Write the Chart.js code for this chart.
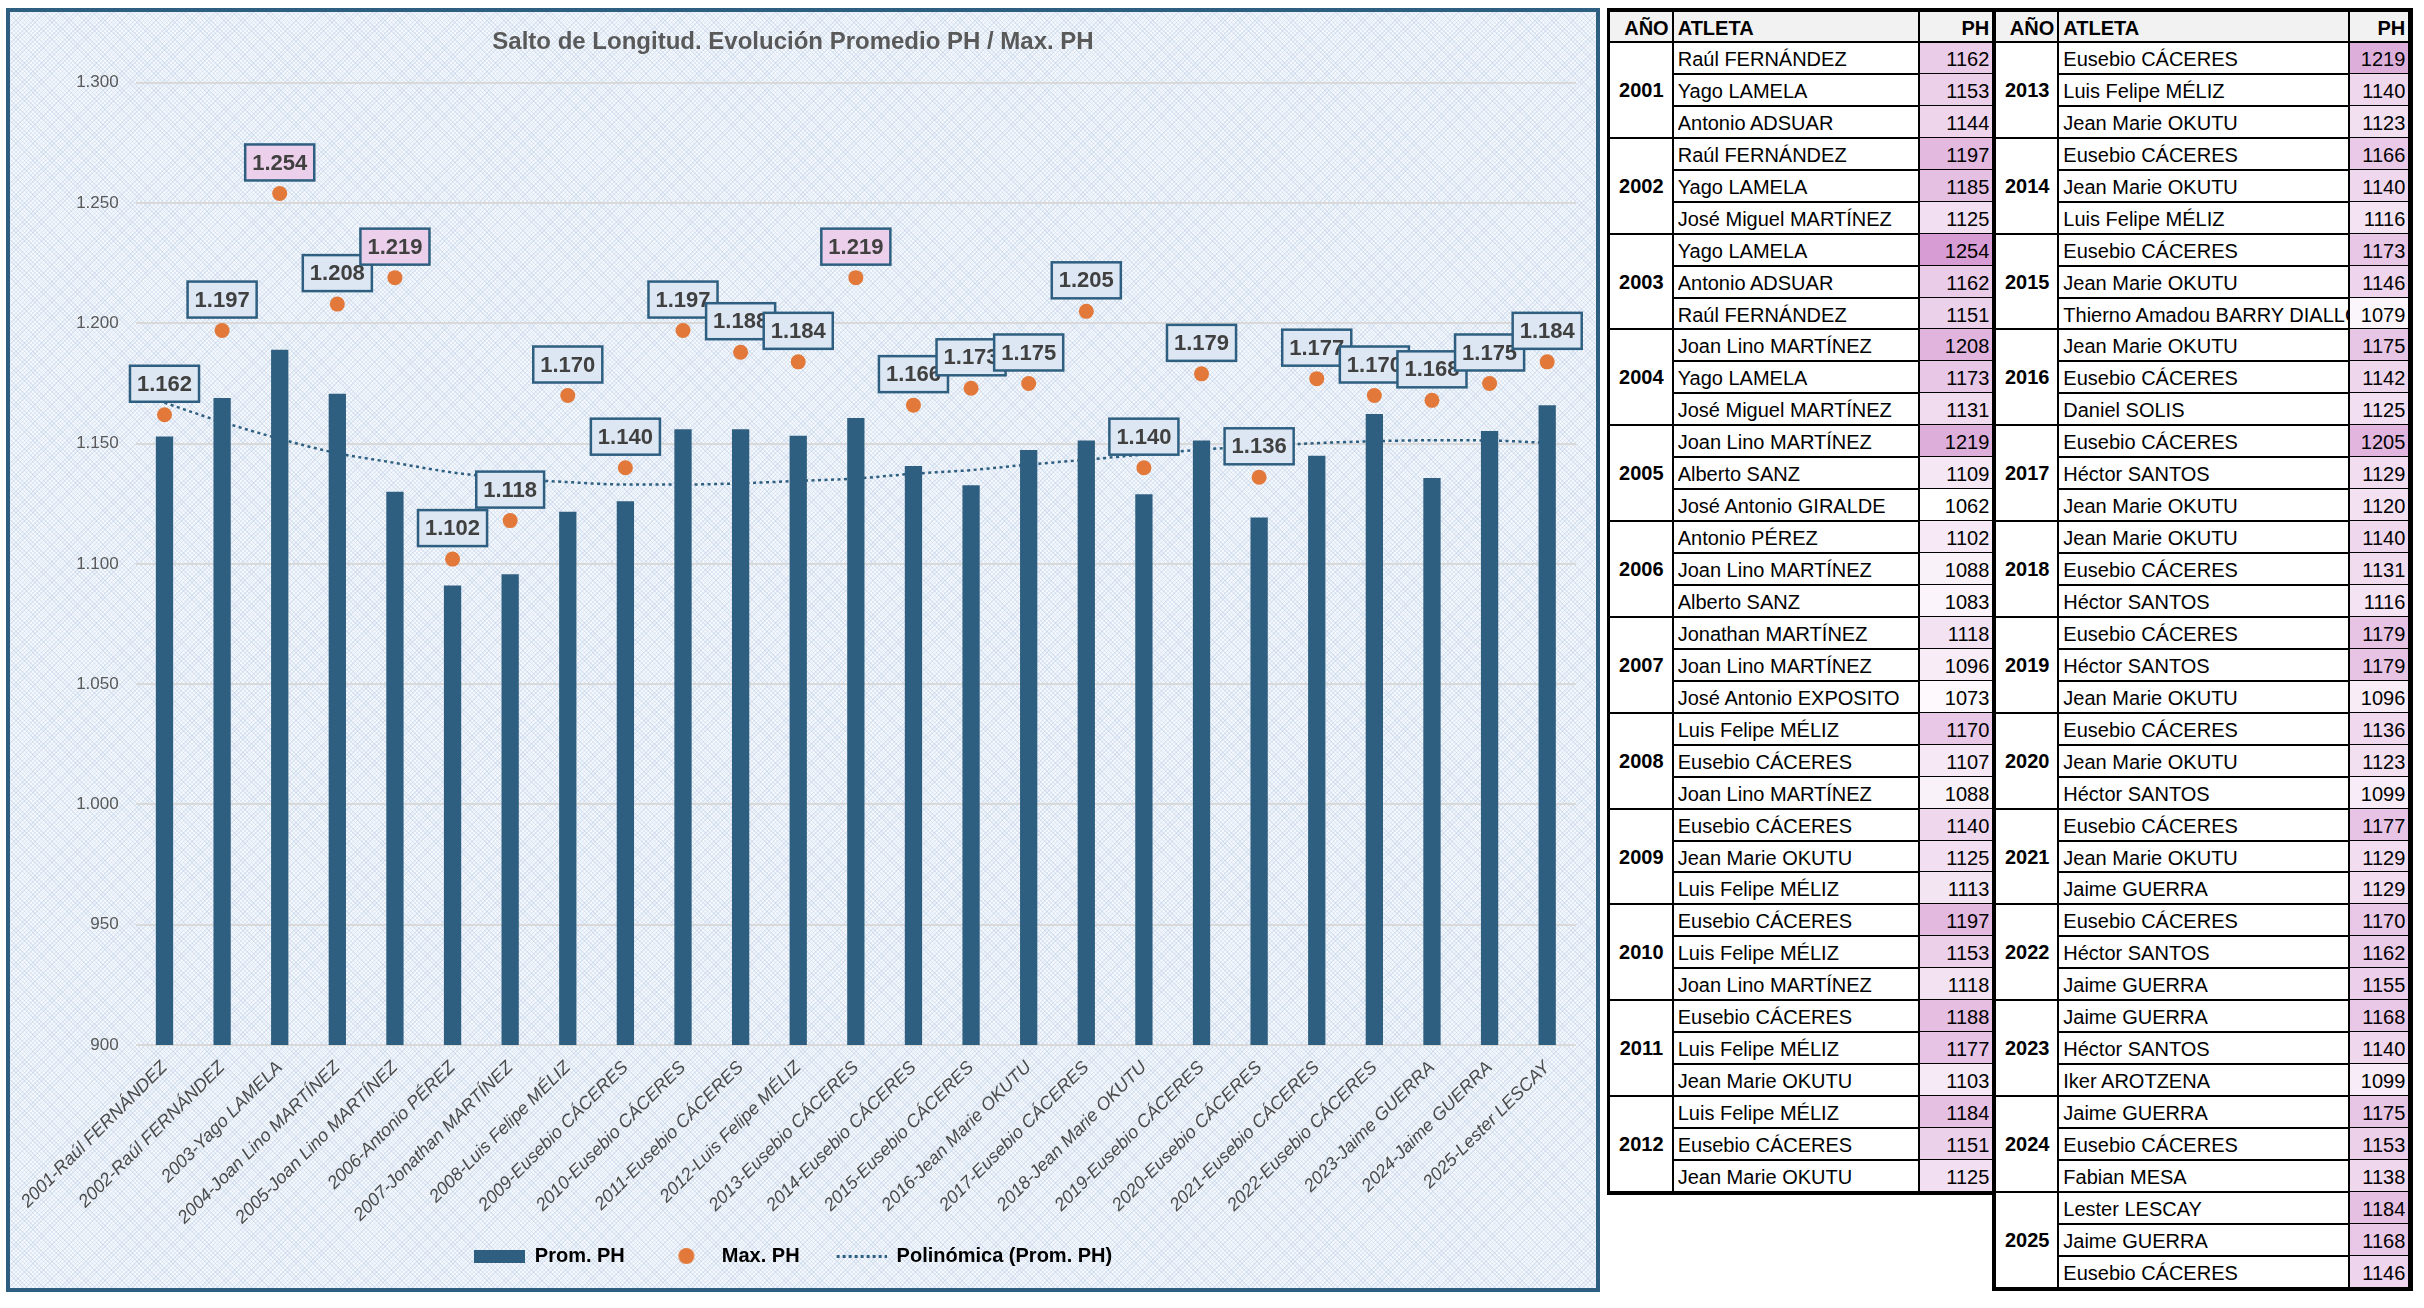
<!DOCTYPE html>
<html lang="es">
<head>
<meta charset="utf-8">
<title>Salto de Longitud. Evolución Promedio PH / Max. PH</title>
<script src="https://cdn.jsdelivr.net/npm/chart.js@4.4.1/dist/chart.umd.min.js"></script>
<style>
  html, body { margin:0; padding:0; background:#ffffff; }
  body { width:2424px; height:1308px; position:relative; overflow:hidden; font-family:"Liberation Sans", Arial, sans-serif; }
  #chartBox {
    position:absolute; left:6px; top:8px; width:1594px; height:1284px;
    border:4px solid #2F5F80; box-sizing:border-box;
    background-color:#f4f7fb;
    background-image:
      repeating-linear-gradient(45deg, rgba(170,195,225,0.30) 0 1px, transparent 1px 3px),
      repeating-linear-gradient(-45deg, rgba(170,195,225,0.30) 0 1px, transparent 1px 3px);
  }
  #chartBox canvas { position:absolute; left:0; top:0; }
  .cell { position:absolute; box-sizing:border-box; white-space:nowrap; overflow:hidden; color:#000; font-size:20px; line-height:32px; }
  .ln { position:absolute; background:#000; }
</style>
</head>
<body>
<div id="chartBox"><canvas id="c" width="1586" height="1276"></canvas></div>
<div id="table"></div>
<script>
// ---------- Chart data ----------
const categories = [
  "2001-Raúl FERNÁNDEZ", "2002-Raúl FERNÁNDEZ", "2003-Yago LAMELA", "2004-Joan Lino MARTÍNEZ",
  "2005-Joan Lino MARTÍNEZ", "2006-Antonio PÉREZ", "2007-Jonathan MARTÍNEZ", "2008-Luis Felipe MÉLIZ",
  "2009-Eusebio CÁCERES", "2010-Eusebio CÁCERES", "2011-Eusebio CÁCERES", "2012-Luis Felipe MÉLIZ",
  "2013-Eusebio CÁCERES", "2014-Eusebio CÁCERES", "2015-Eusebio CÁCERES", "2016-Jean Marie OKUTU",
  "2017-Eusebio CÁCERES", "2018-Jean Marie OKUTU", "2019-Eusebio CÁCERES", "2020-Eusebio CÁCERES",
  "2021-Eusebio CÁCERES", "2022-Eusebio CÁCERES", "2023-Jaime GUERRA", "2024-Jaime GUERRA",
  "2025-Lester LESCAY"
];
const promPH = [1153, 1169, 1189, 1170.7, 1130, 1091, 1095.7, 1121.7, 1126, 1156, 1156, 1153.3, 1160.7,
                1140.7, 1132.7, 1147.3, 1151.3, 1129, 1151.3, 1119.3, 1145, 1162.3, 1135.7, 1155.3, 1166];
const maxPH = [1162, 1197, 1254, 1208, 1219, 1102, 1118, 1170, 1140, 1197, 1188, 1184, 1219,
               1166, 1173, 1175, 1205, 1140, 1179, 1136, 1177, 1170, 1168, 1175, 1184];
const trendPH = [1167, 1159, 1152, 1146, 1142, 1138, 1135.5, 1134, 1133, 1133, 1133.5, 1134.5, 1135.5,
                 1137.5, 1139, 1141.3, 1143.3, 1145.5, 1147.5, 1149, 1150.2, 1151, 1151.4, 1151.3, 1150.3];
const seriesNames = ["Prom. PH", "Max. PH", "Polinómica (Prom. PH)"];
const yMin = 900, yMax = 1300, yStep = 50;

// ---------- Table data ----------
const tableYears = [2001,2002,2003,2004,2005,2006,2007,2008,2009,2010,2011,2012,2013,
                    2014,2015,2016,2017,2018,2019,2020,2021,2022,2023,2024,2025];
const tableAthletes = [
  ["Raúl FERNÁNDEZ","Yago LAMELA","Antonio ADSUAR"],
  ["Raúl FERNÁNDEZ","Yago LAMELA","José Miguel MARTÍNEZ"],
  ["Yago LAMELA","Antonio ADSUAR","Raúl FERNÁNDEZ"],
  ["Joan Lino MARTÍNEZ","Yago LAMELA","José Miguel MARTÍNEZ"],
  ["Joan Lino MARTÍNEZ","Alberto SANZ","José Antonio GIRALDE"],
  ["Antonio PÉREZ","Joan Lino MARTÍNEZ","Alberto SANZ"],
  ["Jonathan MARTÍNEZ","Joan Lino MARTÍNEZ","José Antonio EXPOSITO"],
  ["Luis Felipe MÉLIZ","Eusebio CÁCERES","Joan Lino MARTÍNEZ"],
  ["Eusebio CÁCERES","Jean Marie OKUTU","Luis Felipe MÉLIZ"],
  ["Eusebio CÁCERES","Luis Felipe MÉLIZ","Joan Lino MARTÍNEZ"],
  ["Eusebio CÁCERES","Luis Felipe MÉLIZ","Jean Marie OKUTU"],
  ["Luis Felipe MÉLIZ","Eusebio CÁCERES","Jean Marie OKUTU"],
  ["Eusebio CÁCERES","Luis Felipe MÉLIZ","Jean Marie OKUTU"],
  ["Eusebio CÁCERES","Jean Marie OKUTU","Luis Felipe MÉLIZ"],
  ["Eusebio CÁCERES","Jean Marie OKUTU","Thierno Amadou BARRY DIALLO"],
  ["Jean Marie OKUTU","Eusebio CÁCERES","Daniel SOLIS"],
  ["Eusebio CÁCERES","Héctor SANTOS","Jean Marie OKUTU"],
  ["Jean Marie OKUTU","Eusebio CÁCERES","Héctor SANTOS"],
  ["Eusebio CÁCERES","Héctor SANTOS","Jean Marie OKUTU"],
  ["Eusebio CÁCERES","Jean Marie OKUTU","Héctor SANTOS"],
  ["Eusebio CÁCERES","Jean Marie OKUTU","Jaime GUERRA"],
  ["Eusebio CÁCERES","Héctor SANTOS","Jaime GUERRA"],
  ["Jaime GUERRA","Héctor SANTOS","Iker AROTZENA"],
  ["Jaime GUERRA","Eusebio CÁCERES","Fabian MESA"],
  ["Lester LESCAY","Jaime GUERRA","Eusebio CÁCERES"]
];
const tableMarks = [
  [1162,1153,1144],[1197,1185,1125],[1254,1162,1151],[1208,1173,1131],[1219,1109,1062],
  [1102,1088,1083],[1118,1096,1073],[1170,1107,1088],[1140,1125,1113],[1197,1153,1118],
  [1188,1177,1103],[1184,1151,1125],[1219,1140,1123],[1166,1140,1116],[1173,1146,1079],
  [1175,1142,1125],[1205,1129,1120],[1140,1131,1116],[1179,1179,1096],[1136,1123,1099],
  [1177,1129,1129],[1170,1162,1155],[1168,1140,1099],[1175,1153,1138],[1184,1168,1146]
];
const tableHeaders = ["AÑO", "ATLETA", "PH"];

// ---------- helpers ----------
function fmt(v) {
  const s = String(Math.round(v));
  return s.replace(/\B(?=(\d{3})+(?!\d))/g, ".");
}
const BLUE = "#2F5F80", ORANGE = "#E2793A", GRAY = "#595959";
const FONT = '"Liberation Sans", Arial, sans-serif';
Chart.defaults.font.family = FONT;

function makeCanvas(w, h, draw) {
  const cv = document.createElement("canvas");
  cv.width = w; cv.height = h;
  draw(cv.getContext("2d"));
  return cv;
}
const legendIcons = [
  makeCanvas(51, 13, g => { g.fillStyle = BLUE; g.fillRect(0, 0, 51, 13); }),
  makeCanvas(18, 18, g => { g.fillStyle = ORANGE; g.beginPath(); g.arc(9, 9, 8, 0, Math.PI * 2); g.fill(); }),
  makeCanvas(51, 4, g => { g.fillStyle = BLUE; for (let x = 1; x < 51; x += 6) g.fillRect(x, 1, 3, 3); })
];

// rotated category labels are allowed to run below the axis box (as in the original)
const noLabelClip = {
  id: "noLabelClip",
  beforeDraw(chart) {
    const sx = chart.scales.x;
    if (sx) sx._computeLabelArea = () => undefined;
  }
};

const labelBoxes = {
  id: "labelBoxes",
  afterDatasetsDraw(chart) {
    const dsIndex = 0;
    const meta = chart.getDatasetMeta(dsIndex);
    const data = chart.data.datasets[dsIndex].data;
    const ctx = chart.ctx;
    ctx.save();
    ctx.font = "bold 22px " + FONT;
    meta.data.forEach((pt, i) => {
      const v = data[i];
      const txt = fmt(v);
      const w = ctx.measureText(txt).width + 14;
      const h = 36;
      const x = pt.x - w / 2, y = pt.y - 13 - h;
      ctx.fillStyle = v >= 1215 ? "#ECCFEA" : "#DDE7F3";
      ctx.fillRect(x, y, w, h);
      ctx.lineWidth = 2.5;
      ctx.strokeStyle = BLUE;
      ctx.strokeRect(x, y, w, h);
      ctx.fillStyle = "#404040";
      ctx.textAlign = "center";
      ctx.textBaseline = "middle";
      ctx.fillText(txt, pt.x, y + h / 2 + 1);
    });
    ctx.restore();
  }
};

new Chart(document.getElementById("c"), {
  type: "bar",
  data: {
    labels: categories,
    datasets: [
      { type: "line", label: seriesNames[1], data: maxPH, showLine: false,
        pointRadius: 7.5, pointHoverRadius: 7.5, pointBackgroundColor: ORANGE, pointBorderWidth: 0, order: 0 },
      { type: "line", label: seriesNames[2], data: trendPH, borderColor: BLUE, borderWidth: 2.5,
        borderDash: [3, 3.5], pointRadius: 0, cubicInterpolationMode: "monotone", fill: false, order: 1 },
      { type: "bar", label: seriesNames[0], data: promPH, backgroundColor: BLUE,
        barPercentage: 0.3, categoryPercentage: 1, order: 2 }
    ]
  },
  options: {
    responsive: false,
    animation: false,
    layout: { padding: { left: 0, right: 20, top: 0, bottom: 12 } },
    plugins: {
      tooltip: { enabled: false },
      title: {
        display: true,
        text: "Salto de Longitud. Evolución Promedio PH / Max. PH",
        color: GRAY,
        font: { size: 24, weight: "bold" },
        padding: { top: 16, bottom: 26 }
      },
      legend: {
        position: "bottom",
        labels: {
          usePointStyle: true,
          pointStyleWidth: 51,
          boxHeight: 16,
          padding: 36,
          color: GRAY,
          font: { size: 20, weight: "bold" },
          generateLabels: (chart) => [
            { text: seriesNames[0], pointStyle: legendIcons[0], datasetIndex: 2, hidden: false, lineWidth: 0, fillStyle: BLUE, strokeStyle: BLUE },
            { text: seriesNames[1], pointStyle: legendIcons[1], datasetIndex: 0, hidden: false, lineWidth: 0, fillStyle: ORANGE, strokeStyle: ORANGE },
            { text: seriesNames[2], pointStyle: legendIcons[2], datasetIndex: 1, hidden: false, lineWidth: 0, fillStyle: BLUE, strokeStyle: BLUE }
          ]
        }
      }
    },
    scales: {
      x: {
        grid: { display: false, drawTicks: false },
        border: { display: false },
        ticks: { autoSkip: false, minRotation: 45, maxRotation: 45, padding: 12, color: "#4a4a4a",
                 font: { size: 18, style: "italic" } },
        afterFit: (s) => { s.height = 165; }
      },
      y: {
        min: yMin, max: yMax,
        grid: { color: "#d9d9d9", lineWidth: 2, drawTicks: false },
        border: { display: false },
        ticks: { stepSize: yStep, padding: 17, color: GRAY, font: { size: 17 }, callback: (v) => fmt(v) },
        afterFit: (s) => { s.width = 122; }
      }
    }
  },
  plugins: [noLabelClip, labelBoxes]
});

// ---------- Table ----------
const tbl = document.getElementById("table");
function div(cls, x, y, w, h, style, text) {
  const d = document.createElement("div");
  d.className = cls;
  d.style.left = x + "px"; d.style.top = y + "px";
  d.style.width = w + "px"; d.style.height = h + "px";
  if (style) Object.assign(d.style, style);
  if (text !== undefined) d.textContent = text;
  tbl.appendChild(d);
  return d;
}
const allMarks = tableMarks.flat();
const mMin = Math.min(...allMarks), mMax = Math.max(...allMarks);
function heat(v) {
  const t = (v - mMin) / (mMax - mMin);
  const c0 = [255, 255, 255], c1 = [215, 156, 211];
  const c = c0.map((a, k) => Math.round(a + (c1[k] - a) * t));
  return `rgb(${c[0]},${c[1]},${c[2]})`;
}
function drawBlock(i0, i1, outerLeft, colX, outerRight) {
  const top = 8, headTop = 12, headBot = 42, rowH = 31.94;
  const nRows = (i1 - i0) * 3;
  const bottom = headBot + nRows * rowH;
  div("cell", colX[0], headTop, colX[3] - colX[0], headBot - headTop, { background: "#f2f2f2" });
  div("cell", colX[0], headTop + 1, colX[1] - colX[0] - 4, headBot - headTop,
      { fontWeight: "bold", textAlign: "right", lineHeight: (headBot - headTop) + "px" }, tableHeaders[0]);
  div("cell", colX[1] + 5, headTop + 1, colX[2] - colX[1] - 5, headBot - headTop,
      { fontWeight: "bold", lineHeight: (headBot - headTop) + "px" }, tableHeaders[1]);
  div("cell", colX[2], headTop + 1, colX[3] - colX[2] - 3, headBot - headTop,
      { fontWeight: "bold", textAlign: "right", lineHeight: (headBot - headTop) + "px" }, tableHeaders[2]);
  for (let i = i0; i < i1; i++) {
    const g = i - i0;
    for (let j = 0; j < 3; j++) {
      const y = headBot + (g * 3 + j) * rowH;
      const v = tableMarks[i][j];
      div("cell", colX[2], y, colX[3] - colX[2], rowH, { background: heat(v) });
      div("cell", colX[1] + 5, y + 1, colX[2] - colX[1] - 6, rowH, null, tableAthletes[i][j]);
      div("cell", colX[2], y + 1, colX[3] - colX[2] - 3, rowH, { textAlign: "right" }, String(v));
      div("ln", (j === 2 ? colX[0] : colX[1]), y + rowH - 1, colX[3] - (j === 2 ? colX[0] : colX[1]), 2);
    }
    const yg = headBot + g * 3 * rowH;
    div("cell", colX[0], yg + 1, colX[1] - colX[0], rowH * 3,
        { fontWeight: "bold", textAlign: "center", lineHeight: (rowH * 3) + "px" }, String(tableYears[i]));
  }
  div("ln", colX[0], headBot - 1, colX[3] - colX[0], 2);
  div("ln", colX[1] - 1, headTop, 2, bottom - headTop);
  div("ln", colX[2] - 1, headTop, 2, bottom - headTop);
  div("ln", outerLeft, top, outerRight - outerLeft, 4);
  div("ln", outerLeft, bottom - 1, outerRight - outerLeft, 4);
  div("ln", outerLeft, top, colX[0] - outerLeft, bottom + 3 - top);
  div("ln", colX[3], top, outerRight - colX[3], bottom + 3 - top);
}
drawBlock(0, 12, 1607, [1610, 1672.7, 1919, 1992.3], 1995.7);
drawBlock(12, 25, 1992, [1996, 2058.3, 2349, 2408.3], 2412.7);
</script>
</body>
</html>
